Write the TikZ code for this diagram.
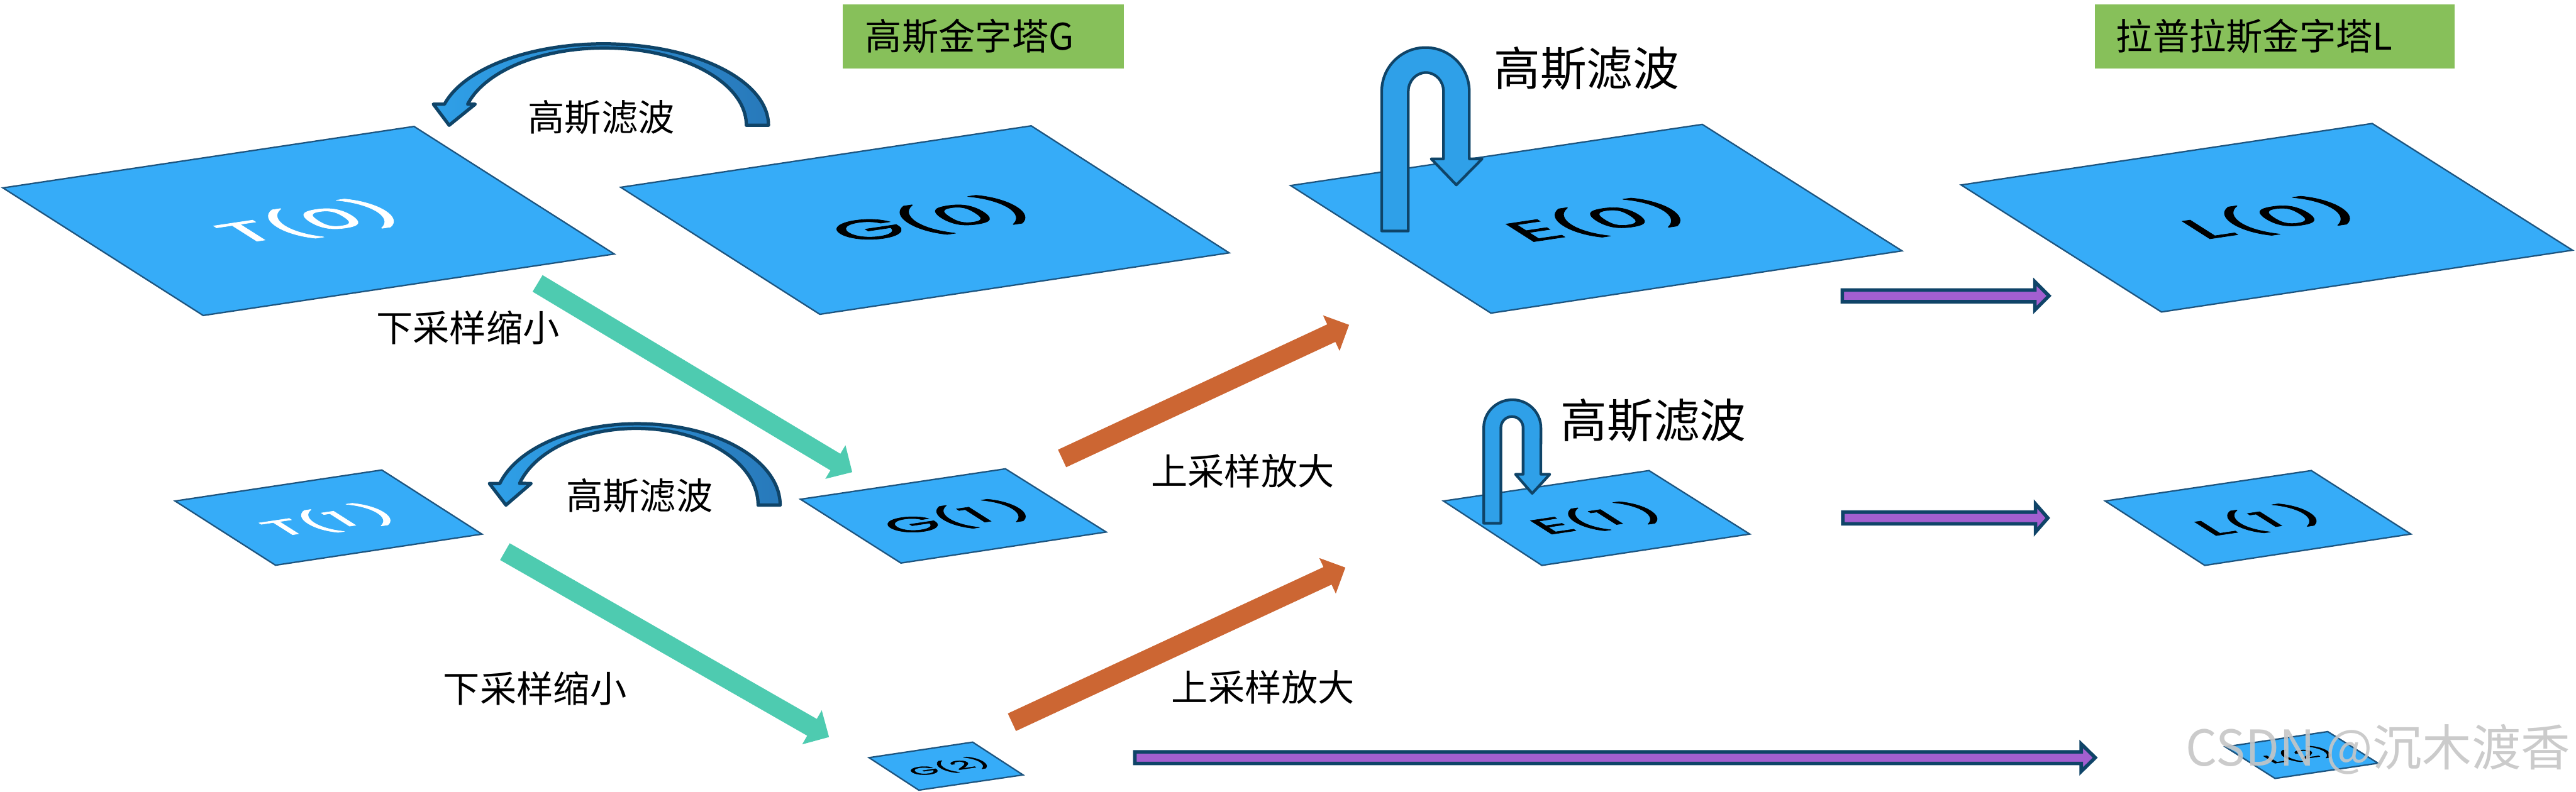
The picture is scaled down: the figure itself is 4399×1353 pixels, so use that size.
\documentclass[tikz,border=0pt]{standalone}
\usepackage{fontspec}
\setmainfont{Noto Sans CJK SC}
\newfontfamily\labfont{Poppins}[FakeBold=1.5]
\usetikzlibrary{calc}
\definecolor{planeblue}{HTML}{36ACF8}
\definecolor{planeedge}{HTML}{1D5580}
\definecolor{navy}{HTML}{0F4468}
\definecolor{ublue}{HTML}{2FA0E8}
\definecolor{arcdark}{HTML}{2879BA}
\definecolor{downteal}{HTML}{4ECBB0}
\definecolor{uporange}{HTML}{CC6633}
\definecolor{purp}{HTML}{A35FD0}
\definecolor{titlegreen}{HTML}{87C05A}
\tikzset{
  plane/.style={fill=planeblue, draw=planeedge, line width=0.7pt},
  purparrow/.style={fill=purp, draw=navy, line width=1.7pt},
  uarrow/.style={fill=ublue, draw=navy, line width=1.3pt, line join=round},
  arcarrow/.style={draw=navy, line width=1.6pt, left color=ublue, right color=arcdark, line join=round},
  cjk/.style={inner sep=0pt, font=\fontsize{17.8}{20}\selectfont},
  cjkbig/.style={inner sep=0pt, font=\fontsize{22.5}{26}\selectfont},
}
\newcommand{\plabel}[6]{\begin{scope}[shift={(#2,#3)}]\node[inner sep=0pt, text=#5, font={\labfont\fontsize{#4}{#4}\selectfont}, cm={0.989,0.1479,-0.4818,0.3064,(0,0)}] (#1) at (0,0) {#6};\end{scope}}
\newcommand{\fatarrow}[3]{%
  \coordinate (#1h) at ($(#2)!0.335cm!(#1)$);
  \fill[#3] ($(#1)!0.165cm!90:(#2)$) -- ($(#1h)!0.165cm!90:(#2)$) -- ($(#1h)!0.335cm!90:(#2)$) -- (#2) -- ($(#1h)!0.335cm!-90:(#2)$) -- ($(#1h)!0.165cm!-90:(#2)$) -- ($(#1)!0.165cm!-90:(#2)$) -- cycle;}
\newcommand{\gp}{\hspace{0.18em}}
\begin{document}
\begin{tikzpicture}[x=0.01cm,y=-0.01cm]
\useasboundingbox (0,0) rectangle (4399,1353);
\fill[white] (0,0) rectangle (4399,1353);

% title boxes
\fill[titlegreen] (1439,7) rectangle (1919,117);
\node[cjk, anchor=west] (titleG) at (1477,62) {高斯金字塔G};
\fill[titlegreen] (3577,7) rectangle (4191.5,117);
\node[cjk, anchor=west] (titleL) at (3613,62) {拉普拉斯金字塔L};

% planes level 0
\draw[plane] (5,321) -- (707,216) -- (1049,434) -- (347,539) -- cycle;
\draw[plane] (1060,320) -- (1761,215) -- (2099,432) -- (1400,537) -- cycle;
\draw[plane] (2204,317) -- (2907,212.5) -- (3248,428.6) -- (2546,535) -- cycle;
\draw[plane] (3349,316) -- (4051,211) -- (4393,427.5) -- (3691,533) -- cycle;
% level 1
\draw[plane] (299,856) -- (652,803) -- (823,912.6) -- (470.5,965.7) -- cycle;
\draw[plane] (1367,853) -- (1717,801) -- (1889,909) -- (1538.5,962) -- cycle;
\draw[plane] (2465,856) -- (2816,804) -- (2988,912.5) -- (2633,966) -- cycle;
\draw[plane] (3595,856) -- (3947,804) -- (4117,912.5) -- (3765,966) -- cycle;
% level 2
\draw[plane] (1484,1294.5) -- (1661,1268) -- (1747,1324) -- (1569,1350) -- cycle;
\draw[plane] (3800,1276) -- (3975,1250) -- (4061,1304) -- (3885,1330) -- cycle;

% plane labels
\plabel{t0}{527}{379}{40}{white}{T(0)}
\plabel{g0}{1589}{375}{40}{black}{G(0)}
\plabel{e0}{2726}{377}{40}{black}{E(0)}
\plabel{l0}{3875}{373}{40}{black}{L(0)}
\plabel{t1}{561}{889}{31}{white}{T(1\gp)}
\plabel{g1}{1633}{884}{31}{black}{G(1\gp)}
\plabel{e1}{2726}{886}{31}{black}{E(1\gp)}
\plabel{l1}{3856}{889}{31}{black}{L(1\gp)}
\plabel{g2}{1620}{1310}{16.5}{black}{G(2)}
\plabel{l2}{3925}{1290}{16.5}{black}{L(2)}

% curved filter arrows (left side)
\path[arcarrow] (759,178) arc[start angle=165, end angle=0, x radius=2.813cm, y radius=1.39cm]
  -- (1274.5,214) arc[start angle=0, end angle=164.2, x radius=2.424cm, y radius=1.32cm]
  -- (811.5,178) -- (767,214) -- (740,178) -- cycle;
\path[arcarrow] (853.6,826) arc[start angle=164.56, end angle=0, x radius=2.436cm, y radius=1.39cm]
  -- (1294.6,863) arc[start angle=0, end angle=163.59, x radius=2.078cm, y radius=1.31cm]
  -- (907,826) -- (864,863) -- (835.7,826) -- cycle;
\node[cjk] (f0) at (1027,200) {高斯滤波};
\node[cjk] (f1) at (1092,847) {高斯滤波};

% U-turn filter arrows on E
\path[uarrow] (2359.5,394.6) -- (2359.5,156) arc[start angle=180, end angle=0, radius=0.7475cm]
  -- (2509,271.4) -- (2531,271.4) -- (2487,316) -- (2444,271.4) -- (2465,271.4) -- (2465,156)
  arc[start angle=0, end angle=180, x radius=0.30cm, y radius=0.32cm] -- (2405,394.6) -- cycle;
\path[uarrow] (2533.7,894) -- (2533.7,731) arc[start angle=180, end angle=0, x radius=0.488cm, y radius=0.48cm]
  -- (2631.3,810.4) -- (2646.5,810.4) -- (2616.5,843) -- (2588,810.4) -- (2601,810.4) -- (2601,731)
  arc[start angle=0, end angle=180, x radius=0.19cm, y radius=0.193cm] -- (2563,894) -- cycle;
\node[cjkbig] (fe0) at (2709.5,117) {高斯滤波};
\node[cjkbig] (fe1) at (2823.5,718) {高斯滤波};

% down-sampling arrows
\coordinate (dt1) at (918,484.2);
\coordinate (dt1e) at (1455.3,806.7);
\fatarrow{dt1}{dt1e}{downteal}
\coordinate (dt2) at (862.2,942.5);
\coordinate (dt2e) at (1415.7,1259.3);
\fatarrow{dt2}{dt2e}{downteal}
\node[cjk] (ds0) at (799,560) {下采样缩小};
\node[cjk] (ds1) at (913.5,1176) {下采样缩小};

% up-sampling arrows
\coordinate (uo1) at (1813.7,783.3);
\coordinate (uo1e) at (2303.8,555);
\fatarrow{uo1}{uo1e}{uporange}
\coordinate (uo2) at (1728,1234);
\coordinate (uo2e) at (2297.4,969.7);
\fatarrow{uo2}{uo2e}{uporange}
\node[cjk] (us0) at (2122,805) {上采样放大};
\node[cjk] (us1) at (2157,1174) {上采样放大};

% purple arrows
\path[purparrow] (3146,495.5) -- (3475,495.5) -- (3475,481.5) -- (3499,505.5) -- (3475,529.5) -- (3475,515.5) -- (3146,515.5) -- cycle;
\path[purparrow] (3147,875) -- (3476,875) -- (3476,861) -- (3497,885) -- (3476,909) -- (3476,895) -- (3147,895) -- cycle;
\path[purparrow] (1938,1284.5) -- (3554,1284.5) -- (3554,1271) -- (3578,1294.5) -- (3554,1318) -- (3554,1304.5) -- (1938,1304.5) -- cycle;

% watermark
\node[inner sep=0pt, text=gray!45, opacity=0.9, font=\fontsize{24}{28}\selectfont] (wm) at (4061,1280) {CSDN @沉木渡香};
\end{tikzpicture}
\end{document}
